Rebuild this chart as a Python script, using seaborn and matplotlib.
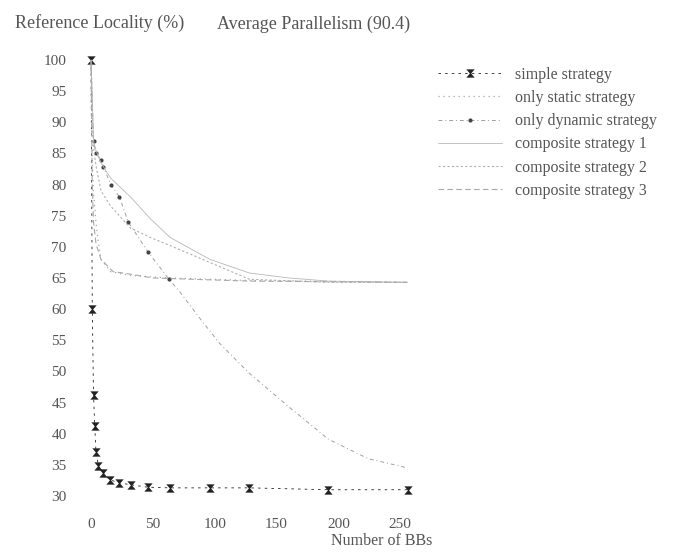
import numpy as np
import pandas as pd
import matplotlib
matplotlib.use('Agg')
import matplotlib.pyplot as plt
from matplotlib.path import Path
import seaborn as sns

# Data
simple_x = [0, 1, 2, 3, 4, 6, 10, 15, 23, 32, 46, 64, 96, 128, 192, 256]
simple_y = [100, 60, 46.2, 41.2, 37, 34.8, 33.7, 32.6, 32.1, 31.8, 31.4, 31.3, 31.3, 31.3, 31.0, 31.0]

static_x = [0, 1, 2, 3, 4, 6, 8, 16, 32, 64, 128, 256]
static_y = [100, 84, 78.6, 76.4, 73.8, 70.6, 68, 66, 65.4, 65, 64.6, 64.3]

dynamic_x = [0, 2, 4, 8, 10, 16, 23, 30, 46, 63, 72, 90, 104, 128, 160, 192, 224, 256]
dynamic_y = [100, 87, 85, 84, 82.8, 80, 78, 74, 69.2, 64.8, 62.7, 58, 54.5, 49.7, 44.3, 39.1, 36, 34.5]

comp1_x = [0, 2, 4, 8, 16, 32, 48, 64, 96, 128, 160, 192, 256]
comp1_y = [100, 87, 85.5, 83.5, 81, 78, 74.5, 71.5, 68, 65.8, 65, 64.5, 64.3]

comp2_x = [0, 2, 4, 8, 16, 32, 48, 64, 96, 128, 192, 256]
comp2_y = [100, 86, 83, 79, 76.5, 73, 71.5, 70.2, 67.5, 64.8, 64.3, 64.3]

comp3_x = [0, 1, 2, 4, 8, 18, 26, 50, 96, 128, 192, 256]
comp3_y = [100, 80, 74, 70.5, 68, 66, 65.8, 65, 64.7, 64.5, 64.4, 64.3]

x_ticks = [0, 50, 100, 150, 200, 250]
y_ticks = [30, 35, 40, 45, 50, 55, 60, 65, 70, 75, 80, 85, 90, 95, 100]

sns.set_style('white')
plt.rcParams['font.family'] = ['Liberation Serif', 'DejaVu Serif']

# hourglass marker used for the simple strategy
hourglass = Path([(-1, 1), (1, 1), (0.15, 0), (1, -1), (-1, -1), (-0.15, 0), (-1, 1)],
                 [Path.MOVETO, Path.LINETO, Path.LINETO, Path.LINETO,
                  Path.LINETO, Path.LINETO, Path.CLOSEPOLY])

fig = plt.figure(figsize=(6.73, 5.52), dpi=100)
ax = fig.add_axes([0.1114, 0.0846, 0.52, 0.818])

sns.lineplot(x=simple_x, y=simple_y, ax=ax, sort=False, color='#222222',
             linestyle=(0, (3, 5)), linewidth=0.6, marker=hourglass,
             markersize=6, markeredgewidth=0, label='simple strategy')
sns.lineplot(x=static_x, y=static_y, ax=ax, sort=False, color='#a8a8a8',
             linestyle=(0, (1, 3)), linewidth=0.9, label='only static strategy')
sns.lineplot(x=dynamic_x, y=dynamic_y, ax=ax, sort=False, color='#a0a0a0',
             linestyle=(0, (4, 3, 1, 3)), linewidth=0.7, marker='o',
             markersize=3, markerfacecolor='#444444', markeredgewidth=0,
             markevery=list(range(1, 10)), label='only dynamic strategy')
sns.lineplot(x=comp1_x, y=comp1_y, ax=ax, sort=False, color='#b8b8b8',
             linestyle='-', linewidth=0.6, label='composite strategy 1')
sns.lineplot(x=comp2_x, y=comp2_y, ax=ax, sort=False, color='#b0b0b0',
             linestyle=(0, (2, 2)), linewidth=0.8, label='composite strategy 2')
sns.lineplot(x=comp3_x, y=comp3_y, ax=ax, sort=False, color='#a8a8a8',
             linestyle=(0, (5, 3)), linewidth=0.8, label='composite strategy 3')

ax.set_xlim(-13, 270)
ax.set_ylim(28.5, 101)
ax.set_xticks(x_ticks)
ax.set_yticks(y_ticks)
ax.tick_params(axis='both', labelsize=11, labelcolor='#555555', color='#c0c0c0',
               length=3, width=0.6)
ax.tick_params(axis='y', pad=3)
ax.tick_params(axis='x', pad=6)
sns.despine(ax=ax, left=True, bottom=True)
ax.set_xlabel('Number of BBs', fontsize=11.5, color='#555555')
ax.xaxis.set_label_coords(1.02, -0.062)
ax.xaxis.label.set_ha('right')
ax.set_ylabel('')

fig.text(0.022, 0.958, 'Reference Locality (%)', fontsize=13, color='#555555', va='center')
fig.text(0.322, 0.955, 'Average Parallelism (90.4)', fontsize=13, color='#555555', va='center')

ax.legend(loc='upper left', bbox_to_anchor=(0.63, 0.905), bbox_transform=fig.transFigure,
          frameon=False, fontsize=11.5, handlelength=4, labelspacing=0.45,
          labelcolor='#555555')

fig.savefig('out.png', dpi=100)
